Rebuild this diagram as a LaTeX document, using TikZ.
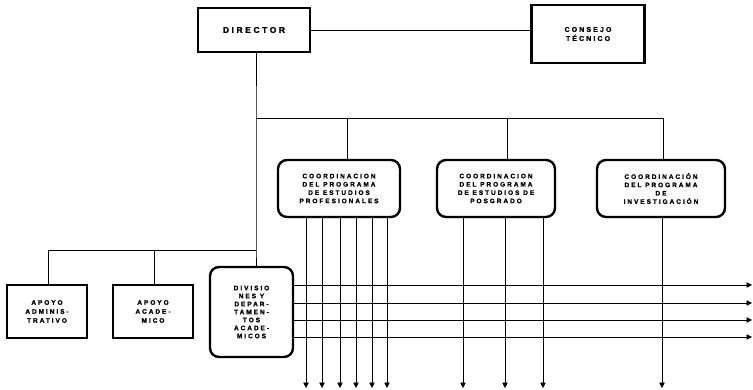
\documentclass[tikz,border=0pt]{standalone}
\usepackage{fontspec}
\newfontfamily\lbl{Liberation Sans Bold}[LetterSpace=30,FakeBold=1.5]
\usetikzlibrary{arrows.meta}
\begin{document}
\begin{tikzpicture}[x=1pt,y=-1pt,
  sqbox/.style={draw,line width=2.4pt,inner sep=0pt,align=center,font=\lbl\fontsize{6.5}{9}\selectfont},
  rdbox/.style={draw,line width=2.4pt,rounded corners=9pt,inner sep=0pt,align=center,font=\lbl\fontsize{6.5}{8.3}\selectfont},
  con/.style={line width=0.9pt},
  arr/.style={line width=0.9pt,-{Triangle[length=5.5pt,width=5.5pt]}}]
\useasboundingbox (0,0) rectangle (753,390);
% top boxes
\node[sqbox,minimum width=112pt,minimum height=44pt,font=\lbl\fontsize{8.5}{10}\selectfont] (dir) at (254,30) {DIRECTOR};
\node[sqbox,minimum width=113pt,minimum height=58pt,font=\lbl\fontsize{7}{9}\selectfont] (con) at (588,34) {CONSEJO\\TÉCNICO};
\draw[con] (dir.east) -- (dir.east -| con.west);
% coordination boxes
\node[rdbox,minimum width=122pt,minimum height=57pt] (c1) at (339,188.5) {COORDINACION\\DEL PROGRAMA\\DE ESTUDIOS\\PROFESIONALES};
\node[rdbox,minimum width=118pt,minimum height=57pt] (c2) at (496,188.5) {COORDINACION\\DEL PROGRAMA\\DE ESTUDIOS DE\\POSGRADO};
\node[rdbox,minimum width=128pt,minimum height=57pt] (c3) at (661,188.5) {COORDINACIÓN\\DEL PROGRAMA\\DE\\INVESTIGACIÓN};
% lower-left boxes
\node[sqbox,minimum width=80pt,minimum height=53pt] (a1) at (47,311.5) {APOYO\\ADMINIS-\\TRATIVO};
\node[sqbox,minimum width=80pt,minimum height=53pt] (a2) at (153,311.5) {APOYO\\ACADE-\\MICO};
\node[rdbox,minimum width=83pt,minimum height=90pt,font=\lbl\fontsize{6.5}{8}\selectfont] (dv) at (251.5,312) {DIVISIO\\NES Y\\DEPAR-\\TAMEN-\\TOS\\ACADE-\\MICOS};
% coordinates
\coordinate (v0) at (256,118);
\coordinate (v1) at (256,250);
\coordinate (b1) at (347,118);
\coordinate (b2) at (507,118);
\coordinate (b3) at (663,118);
\coordinate (l1) at (48,250);
\coordinate (l2) at (154,250);
% trunk
\draw[con] (dir.south -| v0) -- (v0) -- (v1) -- (v1 |- dv.north);
\draw[con] (v0) -- (b3);
\draw[con] (b1) -- (b1 |- c1.north);
\draw[con] (b2) -- (b2 |- c2.north);
\draw[con] (b3) -- (b3 |- c3.north);
\draw[con] (l1) -- (v1);
\draw[con] (l1) -- (l1 |- a1.north);
\draw[con] (l2) -- (l2 |- a2.north);
% horizontal arrows
\foreach \y/\n in {285/h1,303/h2,320/h3,337/h4}{
  \coordinate (\n) at (752,\y);
  \draw[arr] (dv.east |- \n) -- (\n);
}
% vertical arrows
\foreach \x/\n in {306/d1,322/d2,340/d3,356/d4,372/d5,387/d6}{
  \coordinate (\n) at (\x,388);
  \draw[arr] (c1.south -| \n) -- (\n);
}
\foreach \x/\n in {463/e1,505/e2,543/e3}{
  \coordinate (\n) at (\x,388);
  \draw[arr] (c2.south -| \n) -- (\n);
}
\coordinate (f1) at (662,388);
\draw[arr] (c3.south -| f1) -- (f1);
\end{tikzpicture}
\end{document}
